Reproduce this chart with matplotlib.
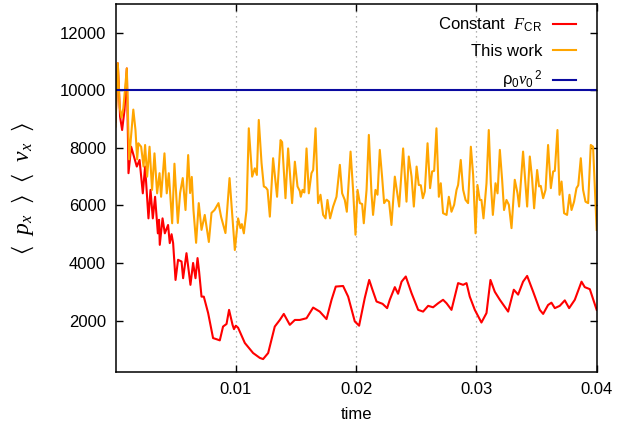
import matplotlib
matplotlib.use("Agg")
from matplotlib import pyplot as plt

plt.rcParams['font.family'] = ['Liberation Sans', 'DejaVu Sans']
plt.rcParams['mathtext.fontset'] = 'custom'
plt.rcParams['mathtext.rm'] = 'Liberation Sans'
plt.rcParams['mathtext.it'] = 'Liberation Serif:italic'
plt.rcParams['mathtext.bf'] = 'Liberation Sans:bold'
plt.rcParams['mathtext.fallback'] = 'stix'

# constant cosmic-ray force
t_const = [
    0.00000, 0.00019, 0.00038, 0.00055, 0.00075, 0.00094, 0.00108, 0.00130,
    0.00177, 0.00200, 0.00227, 0.00246, 0.00274, 0.00291, 0.00310, 0.00329,
    0.00352, 0.00362, 0.00368, 0.00391, 0.00410, 0.00437, 0.00451, 0.00466,
    0.00479, 0.00499, 0.00520, 0.00549, 0.00562, 0.00590, 0.00604, 0.00623,
    0.00645, 0.00665, 0.00682, 0.00695, 0.00715, 0.00734, 0.00770, 0.00811,
    0.00840, 0.00867, 0.00894, 0.00923, 0.00944, 0.00973, 0.00985, 0.01000,
    0.01019, 0.01075, 0.01144, 0.01200, 0.01227, 0.01269, 0.01324, 0.01366,
    0.01399, 0.01449, 0.01491, 0.01532, 0.01588, 0.01643, 0.01698, 0.01754,
    0.01796, 0.01831, 0.01892, 0.01934, 0.01989, 0.02025, 0.02072, 0.02109,
    0.02136, 0.02170, 0.02220, 0.02258, 0.02280, 0.02322, 0.02349, 0.02378,
    0.02413, 0.02461, 0.02516, 0.02557, 0.02599, 0.02640, 0.02682, 0.02723,
    0.02752, 0.02793, 0.02848, 0.02890, 0.02918, 0.02945, 0.02987, 0.03042,
    0.03084, 0.03117, 0.03153, 0.03195, 0.03264, 0.03311, 0.03347, 0.03388,
    0.03422, 0.03472, 0.03527, 0.03555, 0.03596, 0.03624, 0.03652, 0.03693,
    0.03735, 0.03771, 0.03818, 0.03874, 0.03901, 0.03943, 0.04000,
]
p_const = [
    8900, 10940, 9080, 8620, 9320, 10760, 7120, 8040,
    7350, 7580, 6420, 7350, 5550, 6540, 5550, 6300,
    5030, 5500, 4630, 5550, 5030, 5320, 4690, 5000,
    4690, 3410, 4110, 4050, 3470, 4340, 3880, 3240,
    4000, 3470, 4170, 3700, 2830, 2830, 2260, 1390,
    1350, 1310, 1790, 1880, 2370, 1850, 1700, 1820,
    1750, 1220, 870, 700, 660, 870, 1790, 2020,
    2230, 1850, 2020, 2020, 2080, 2450, 2310, 2050,
    2720, 3180, 3200, 2830, 1970, 1820, 2780, 3410,
    3070, 2660, 2580, 2430, 2720, 3160, 2930, 3350,
    3530, 2950, 2370, 2310, 2510, 2460, 2600, 2720,
    2600, 2370, 3300, 3240, 3300, 2830, 2370, 1930,
    2260, 3410, 3000, 2720, 2310, 3070, 2900, 3350,
    3550, 3000, 2370, 2230, 2540, 2620, 2430, 2510,
    2700, 2430, 2720, 3350, 3160, 3090, 2370,
]

# new cosmic-ray treatment
t_new = [
    0.00000, 0.00019, 0.00035, 0.00050, 0.00065, 0.00094, 0.00113, 0.00148,
    0.00166, 0.00180, 0.00190, 0.00213, 0.00233, 0.00246, 0.00263, 0.00283,
    0.00304, 0.00324, 0.00346, 0.00366, 0.00379, 0.00407, 0.00426, 0.00443,
    0.00471, 0.00490, 0.00518, 0.00537, 0.00559, 0.00582, 0.00604, 0.00620,
    0.00634, 0.00648, 0.00670, 0.00692, 0.00715, 0.00742, 0.00776, 0.00798,
    0.00823, 0.00856, 0.00878, 0.00914, 0.00948, 0.00975, 0.00992, 0.01019,
    0.01039, 0.01050, 0.01067, 0.01089, 0.01108, 0.01136, 0.01158, 0.01175,
    0.01191, 0.01214, 0.01233, 0.01250, 0.01264, 0.01283, 0.01310, 0.01343,
    0.01372, 0.01385, 0.01413, 0.01435, 0.01468, 0.01491, 0.01513, 0.01532,
    0.01540, 0.01555, 0.01570, 0.01588, 0.01607, 0.01629, 0.01643, 0.01663,
    0.01684, 0.01704, 0.01726, 0.01746, 0.01762, 0.01784, 0.01809, 0.01837,
    0.01865, 0.01884, 0.01906, 0.01923, 0.01954, 0.01975, 0.01995, 0.02012,
    0.02031, 0.02050, 0.02064, 0.02087, 0.02106, 0.02128, 0.02141, 0.02161,
    0.02178, 0.02197, 0.02216, 0.02233, 0.02253, 0.02274, 0.02294, 0.02322,
    0.02344, 0.02358, 0.02391, 0.02419, 0.02438, 0.02461, 0.02480, 0.02503,
    0.02521, 0.02538, 0.02555, 0.02571, 0.02594, 0.02615, 0.02632, 0.02649,
    0.02668, 0.02688, 0.02704, 0.02723, 0.02752, 0.02771, 0.02793, 0.02815,
    0.02835, 0.02848, 0.02870, 0.02890, 0.02910, 0.02931, 0.02954, 0.02973,
    0.02993, 0.03009, 0.03028, 0.03042, 0.03059, 0.03084, 0.03103, 0.03120,
    0.03137, 0.03159, 0.03176, 0.03195, 0.03214, 0.03230, 0.03250, 0.03270,
    0.03292, 0.03319, 0.03342, 0.03355, 0.03388, 0.03422, 0.03444, 0.03463,
    0.03480, 0.03505, 0.03521, 0.03535, 0.03555, 0.03575, 0.03596, 0.03619,
    0.03638, 0.03652, 0.03674, 0.03691, 0.03708, 0.03729, 0.03754, 0.03774,
    0.03791, 0.03812, 0.03832, 0.03847, 0.03868, 0.03887, 0.03907, 0.03929,
    0.03951, 0.03970, 0.04000,
]
p_new = [
    8740, 10940, 9400, 9050, 9380, 10760, 7600, 9330,
    8620, 7600, 8160, 8040, 7350, 8100, 7000, 8040,
    6540, 7810, 6420, 7120, 6300, 7810, 6420, 7120,
    5380, 7450, 5390, 6430, 6950, 5840, 7750, 6430,
    6990, 5840, 4700, 6080, 5150, 5670, 4730, 5740,
    5840, 6080, 5600, 5040, 6950, 5390, 4450, 5550,
    5210, 5350, 5030, 5840, 8680, 7000, 7290, 7060,
    8970, 7470, 6660, 6620, 6540, 5610, 7640, 6300,
    8270, 8200, 6250, 7980, 6080, 7520, 6660, 6500,
    6300, 6540, 6450, 7980, 6420, 7120, 7230, 8680,
    6080, 6370, 5670, 5550, 6190, 5550, 5960, 6300,
    7410, 6420, 6190, 5780, 7870, 6540, 4980, 6540,
    6080, 6050, 5380, 6540, 8450, 6420, 5670, 6540,
    6370, 7930, 7000, 6080, 6200, 6130, 5320, 7000,
    6370, 5960, 7980, 6130, 7700, 7000, 5960, 7350,
    6710, 6700, 6250, 6480, 8160, 6600, 7180, 7200,
    8680, 6300, 6770, 5730, 5670, 6300, 5780, 6020,
    6540, 6710, 7580, 6540, 6190, 6080, 8040, 7060,
    5030, 6710, 6190, 6190, 5550, 6770, 8620, 6770,
    5670, 6770, 6420, 7930, 6890, 5840, 6190, 6020,
    5210, 6890, 6420, 5960, 7870, 5960, 7700, 6940,
    5900, 7230, 6660, 6680, 6250, 6540, 8100, 6600,
    7180, 7200, 8620, 6370, 6830, 5730, 5670, 6370,
    5840, 6130, 6600, 6700, 7640, 6540, 6130, 6080,
    8100, 8040, 5150,
]

rho_v2 = 10000
x_ticks = [0.01, 0.02, 0.03, 0.04]
y_ticks = [2000, 4000, 6000, 8000, 10000, 12000]

fig = plt.figure(figsize=(6.18, 4.28), dpi=100)
ax = fig.add_axes([0.1869, 0.1301, 0.9655 - 0.1869, 0.9907 - 0.1301])

ax.plot(t_const, p_const, color='#ff0000', lw=1.5, label=r'Constant  $F_{\mathrm{CR}}$')
ax.plot(t_new, p_new, color='#ffa500', lw=1.5, label='This work')
ax.axhline(rho_v2, color='#0a0aa0', lw=1.5, label=r'ρ$_{\mathrm{0}}v_0{}^{\,2}$')

ax.set_xlim(0, 0.04)
ax.set_ylim(200, 13000)
ax.set_xticks(x_ticks)
ax.set_xticklabels([f'{v:g}' for v in x_ticks])
ax.set_yticks(y_ticks)

ax.tick_params(direction='in', length=5, width=1, labelsize=12, pad=7,
               top=True, right=True, colors='black')
ax.xaxis.grid(True, linestyle=(0, (1, 3)), color='#999999', lw=0.9)
for s in ax.spines.values():
    s.set_linewidth(1.1)

ax.set_xlabel('time', fontsize=12)
ax.xaxis.set_label_coords(0.5, -0.093)
ax.xaxis.label.set_va('top')
ax.set_ylabel(r'$\langle\ \ p_x\ \ \rangle\ \ \langle\ \ v_x\ \ \rangle$', fontsize=17)
ax.yaxis.set_label_coords(-0.165, 0.5)

ax.legend(loc='upper right', bbox_to_anchor=(0.981, 1.0), frameon=False,
          markerfirst=False, fontsize=12, handlelength=1.35, handletextpad=0.65,
          labelspacing=0.6, borderaxespad=0.3, borderpad=0.4)

fig.savefig('out.png', dpi=100)
